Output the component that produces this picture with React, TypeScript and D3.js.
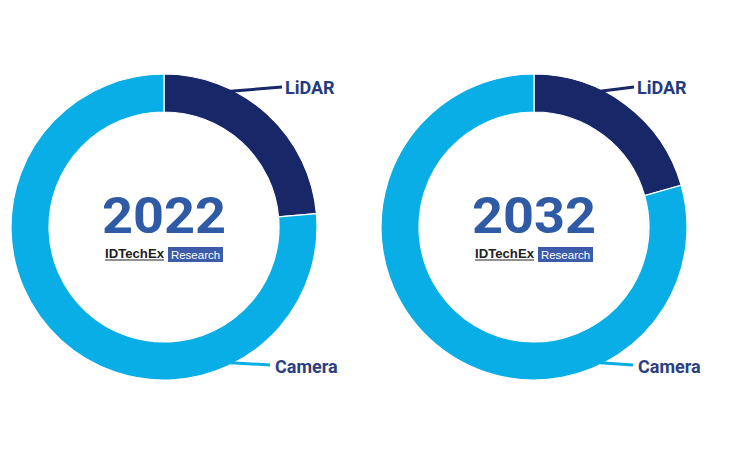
import React from "react";
import * as d3 from "d3";

const years = ["2022", "2032"];
const lidarShare = [23.6, 20.6];
const cameraShare = [76.4, 79.4];
const segmentNames = ["LiDAR", "Camera"];
const segmentColors = ["#172768", "#0aaee6"];
const brandName = "IDTechEx";
const brandTag = "Research";

const W = 736;
const H = 458;
const centersX = [164, 534];
const cy = 227;
const rOuter = 153;
const rInner = 115;
// label anchor offsets (relative to each donut centre)
const lidarLabelX = [121, 103];
const cameraLabelX = [111, 104];

export default function App() {
  const pie = d3.pie<number>().sort(null).value((d) => d);
  const arc = d3.arc<d3.PieArcDatum<number>>().innerRadius(rInner).outerRadius(rOuter);

  const leader = (angleDeg: number, ex: number, ey: number) => {
    const a = (angleDeg * Math.PI) / 180;
    const sx = Math.sin(a) * (rOuter - 2);
    const sy = -Math.cos(a) * (rOuter - 2);
    return d3.line()([
      [sx, sy],
      [ex, ey],
    ]) as string;
  };

  return (
    <div style={{ position: "absolute", left: 0, top: 0 }}>
      <svg width={W} height={H} style={{ display: "block", background: "#ffffff" }}>
        {years.map((yr, i) => {
          const arcs = pie([lidarShare[i], cameraShare[i]]);
          return (
            <g key={yr} transform={`translate(${centersX[i]},${cy})`}>
              {arcs.map((a, j) => (
                <path key={j} d={arc(a) as string} fill={segmentColors[j]} stroke="#ffffff" strokeWidth={1.2} />
              ))}
              <path d={leader(26, lidarLabelX[i] - 3, -140)} stroke={segmentColors[0]} strokeWidth={3} fill="none" />
              <path d={leader(154, cameraLabelX[i] - 5, 138)} stroke={segmentColors[1]} strokeWidth={3} fill="none" />
              <text
                x={lidarLabelX[i]}
                y={-133}
                fontFamily="Roboto, 'Open Sans', sans-serif"
                fontWeight={700}
                fontSize={18}
                fill="#253a7c"
              >
                {segmentNames[0]}
              </text>
              <text
                x={cameraLabelX[i]}
                y={146}
                fontFamily="Roboto, 'Open Sans', sans-serif"
                fontWeight={700}
                fontSize={18}
                fill="#2b3f80"
              >
                {segmentNames[1]}
              </text>
              <text
                x={-62}
                y={6}
                fontFamily="Roboto, 'Open Sans', sans-serif"
                fontWeight={700}
                fontSize={50}
                fill="#2f5aa6"
                textLength={124}
                lengthAdjust="spacingAndGlyphs"
              >
                {yr}
              </text>
              <text
                x={-59}
                y={31}
                fontFamily="Arial, 'Liberation Sans', sans-serif"
                fontWeight={700}
                fontSize={13}
                fill="#222222"
                textLength={59}
                lengthAdjust="spacingAndGlyphs"
              >
                {brandName}
              </text>
              <line x1={-59} x2={0} y1={33} y2={33} stroke="#222222" strokeWidth={1} />
              <rect x={4} y={20} width={55} height={15} fill="#3c5ba8" />
              <text
                x={31.5}
                y={31.5}
                textAnchor="middle"
                fontFamily="Arial, 'Liberation Sans', sans-serif"
                fontSize={11.5}
                fill="#ffffff"
              >
                {brandTag}
              </text>
            </g>
          );
        })}
      </svg>
    </div>
  );
}
